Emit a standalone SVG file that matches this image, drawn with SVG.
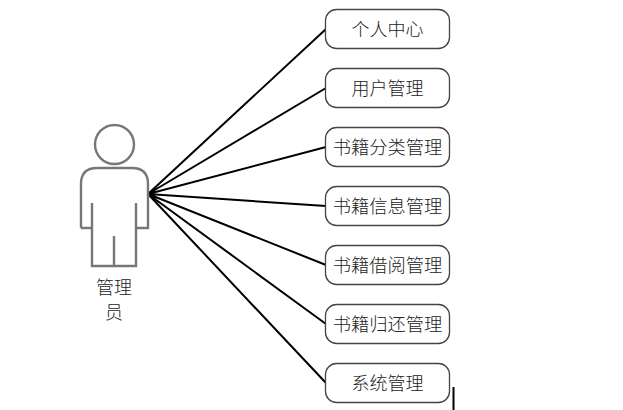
<svg xmlns="http://www.w3.org/2000/svg" width="623" height="410" viewBox="0 0 623 410">
<style>
.box{fill:#fff;stroke:#444;stroke-width:1.3}
.t{font-family:"Noto Sans CJK SC","Liberation Serif",serif;font-size:18px;fill:#222;text-anchor:middle;dominant-baseline:central;font-weight:300}
.b{font-size:18.3px}
.act{fill:#fff;stroke:#777;stroke-width:2.4}
.c{stroke:#000;stroke-width:2;fill:none}
</style>
<rect width="623" height="410" fill="#fff"/>
<g id="connectors">
<path class="c" d="M148 194L326 29M148 194L326 88M148 194L326 147M148 194L326 206M148 194L326 265M148 194L326 324M148 194L326 383"/>
<path d="M453.500 387V410" stroke="#000" stroke-width="2" fill="none"/>
</g>
<g id="actor">
<circle class="act" cx="114.500" cy="144.500" r="19.500"/>
<path class="act" d="M81 228V184Q81 168 97 168H132Q148 168 148 184V228H136V203M136 228V266H92V228H81M92 228V203M114 236V266"/>
<text class="t" x="114" y="286">管理</text>
<text class="t" x="114" y="311">员</text>
</g>
<g id="n1"><rect class="box" x="325.500" y="9.500" width="124" height="39" rx="11"/><text class="t" x="387.500" y="27.500">个人中心</text></g>
<g id="n2"><rect class="box" x="325.500" y="68.500" width="124" height="39" rx="11"/><text class="t" x="387.500" y="86.500">用户管理</text></g>
<g id="n3"><rect class="box" x="325.500" y="127.500" width="124" height="39" rx="11"/><text class="t b" x="387.500" y="145.500">书籍分类管理</text></g>
<g id="n4"><rect class="box" x="325.500" y="186.500" width="124" height="39" rx="11"/><text class="t b" x="387.500" y="204.500">书籍信息管理</text></g>
<g id="n5"><rect class="box" x="325.500" y="245.500" width="124" height="39" rx="11"/><text class="t b" x="387.500" y="263.500">书籍借阅管理</text></g>
<g id="n6"><rect class="box" x="325.500" y="304.500" width="124" height="39" rx="11"/><text class="t b" x="387.500" y="322.500">书籍归还管理</text></g>
<g id="n7"><rect class="box" x="325.500" y="363.500" width="124" height="39" rx="11"/><text class="t" x="387.500" y="381.500">系统管理</text></g>
</svg>
